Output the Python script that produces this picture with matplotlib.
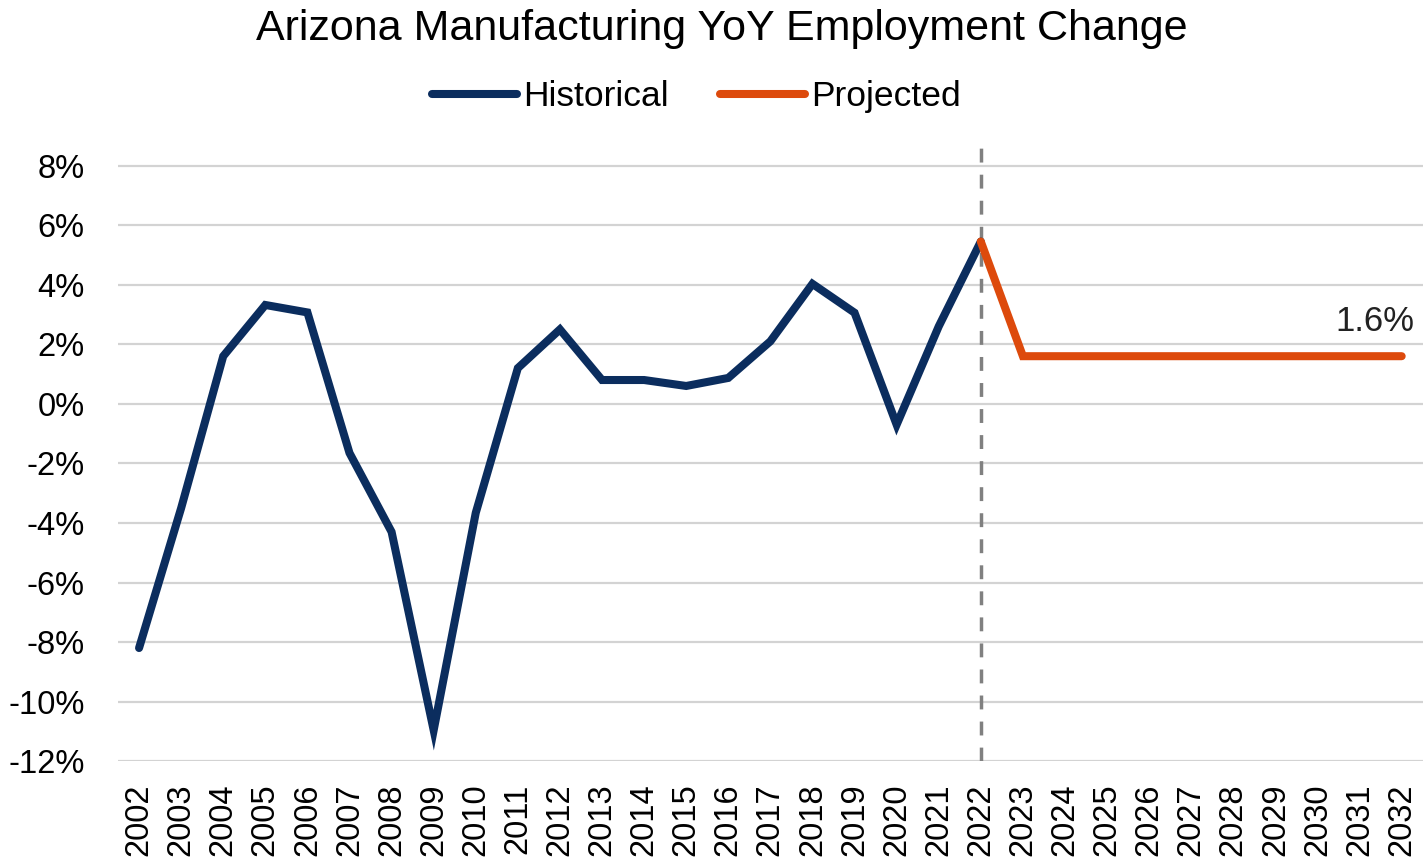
import matplotlib
matplotlib.use("Agg")
import matplotlib.pyplot as plt
from matplotlib.ticker import FuncFormatter

plt.rcParams['font.family'] = ['Liberation Sans', 'DejaVu Sans']

hist_years = list(range(2002, 2023))
hist_values = [-8.2, -3.5, 1.6, 3.32, 3.07, -1.65, -4.3, -10.96, -3.66, 1.2,
               2.5, 0.8, 0.8, 0.6, 0.87, 2.1, 4.03, 3.06, -0.7, 2.6, 5.45]
proj_years = list(range(2022, 2033))
proj_values = [5.45, 1.6, 1.6, 1.6, 1.6, 1.6, 1.6, 1.6, 1.6, 1.6, 1.6]
y_ticks = list(range(-12, 9, 2))
end_label = "1.6%"

navy = "#0B2D5E"
orange = "#DD4A0C"

fig = plt.figure(figsize=(14.27, 8.64), dpi=100)
ax = fig.add_axes([0.0827, 0.119, 0.9143, 0.71])

ax.plot(hist_years, hist_values, color=navy, lw=5.8, solid_capstyle='round',
        solid_joinstyle='miter', label="Historical", zorder=3)
ax.plot(proj_years, proj_values, color=orange, lw=5.8, solid_capstyle='round',
        solid_joinstyle='miter', label="Projected", zorder=3)
ax.axvline(2022, color="#808080", lw=2.5, ls=(0, (4, 3.5)), zorder=2)

ax.set_xlim(2001.5, 2032.5)
ax.set_ylim(-12, 8.6)
ax.set_yticks(y_ticks)
ax.yaxis.set_major_formatter(FuncFormatter(lambda v, p: f"{int(v)}%"))
ax.set_xticks(list(range(2002, 2033)))
ax.set_xticklabels([str(y) for y in range(2002, 2033)], rotation=90)
ax.tick_params(axis='both', length=0, labelsize=23.5, colors='black')
ax.tick_params(axis='x', pad=16)
ax.tick_params(axis='y', pad=24)
for s in ax.spines.values():
    s.set_visible(False)
ax.grid(axis='y', color="#D3D3D3", lw=1.6)
ax.set_axisbelow(True)

ax.text(proj_years[-1] + 0.3, proj_values[-1] + 0.6, end_label, ha='right', va='bottom',
        fontsize=25, color='#222222')

fig.text(0.506, 0.9537, "Arizona Manufacturing YoY Employment Change", ha='center',
         va='baseline', fontsize=31)
fig.legend(loc='center', bbox_to_anchor=(0.488, 0.888), ncol=2, frameon=False,
           fontsize=25.5, handlelength=2.4, handletextpad=0.17, columnspacing=1.45)

fig.savefig("out.png", dpi=100, facecolor='white')
